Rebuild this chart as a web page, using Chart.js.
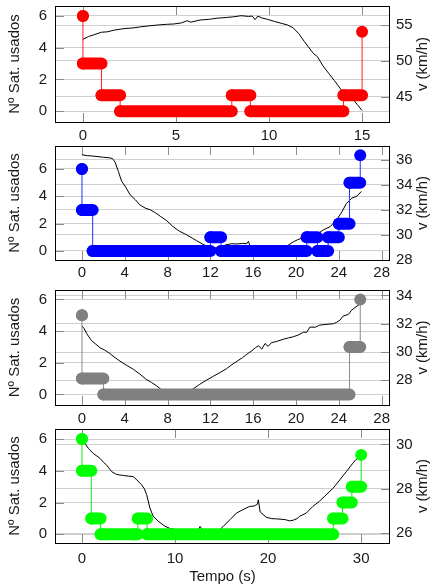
<!DOCTYPE html>
<html>
<head>
<meta charset="utf-8">
<script src="https://cdn.jsdelivr.net/npm/chart.js@4.4.1/dist/chart.umd.min.js"></script>
<style>
html,body{margin:0;padding:0;background:#fff;}
body{width:433px;height:586px;position:relative;overflow:hidden;}
canvas{position:absolute;left:0;}
</style>
</head>
<body>
<canvas id="c1" width="433" height="145" style="top:0px"></canvas>
<canvas id="c2" width="433" height="143" style="top:140px"></canvas>
<canvas id="c3" width="433" height="144" style="top:284px"></canvas>
<canvas id="c4" width="433" height="163" style="top:423px"></canvas>
<script>
// ---------- DATA ----------
const leftTitle = 'Nº Sat. usados';
const rightTitle = 'v (km/h)';
const bottomTitle = 'Tempo (s)';

// Panel 1 (red)
const satTimes1  = [0, 0, 1, 2, 8, 9, 14, 15];
const satValues1 = [6, 3, 1, 0, 1, 0, 1, 5];
const velTimes1  = [0, 0.3, 0.6, 1.0, 1.3, 1.7, 2.2, 2.7, 3.1, 3.6, 4.0, 4.5, 4.9, 5.3, 5.6, 5.8, 6.3, 6.8, 7.2, 7.7, 8.1, 8.5, 8.9, 9.1, 9.25, 9.4, 9.6, 9.9, 10.3, 10.65, 11.0, 11.3, 11.6, 11.9, 12.1, 12.4, 12.6, 12.9, 13.2, 13.5, 13.9, 14.2, 14.5, 14.75, 15.0];
const velValues1 = [53.0, 53.4, 53.65, 54.0, 54.05, 54.3, 54.5, 54.6, 54.75, 54.9, 55.0, 55.1, 55.15, 55.3, 55.6, 55.4, 55.7, 55.8, 55.95, 56.05, 56.15, 56.3, 56.2, 56.25, 55.75, 56.25, 56.0, 55.8, 55.5, 55.25, 55.0, 54.6, 53.8, 52.7, 52.0, 51.0, 50.6, 49.3, 48.3, 47.3, 45.9, 45.4, 44.7, 43.9, 43.1];
const xTicks1  = [0, 5, 10, 15];
const yTicks1  = [0, 2, 4, 6];
const y2Ticks1 = [45, 50, 55];

// Panel 2 (blue)
const satTimes2  = [0, 0, 1, 12, 13, 21, 22, 23, 24, 25, 26];
const satValues2 = [6, 3, 0, 1, 0, 1, 0, 1, 2, 5, 7];
const velTimes2  = [0, 0.5, 1.0, 1.5, 2.0, 2.6, 2.85, 3.1, 3.4, 3.7, 4.1, 4.5, 5.0, 5.4, 5.9, 6.4, 6.9, 7.3, 7.9, 8.5, 9.1, 9.8, 10.3, 10.7, 11.3, 11.7, 12.2, 12.8, 13.4, 14.0, 14.5, 15.0, 15.4, 15.55, 15.7, 16.2, 17.0, 18.0, 18.8, 19.3, 19.75, 20.1, 20.5, 21.0, 21.6, 22.1, 22.55, 23.2, 23.8, 24.3, 24.7, 25.2, 25.7, 26.1];
const velValues2 = [36.4, 36.33, 36.3, 36.25, 36.2, 36.15, 36.1, 35.8, 35.07, 34.3, 33.8, 33.2, 32.8, 32.4, 32.15, 32.0, 31.75, 31.5, 31.15, 30.67, 30.3, 30.0, 29.75, 29.55, 29.25, 29.1, 29.0, 28.95, 29.2, 29.3, 29.28, 29.32, 29.3, 29.5, 29.1, 28.95, 28.9, 28.9, 28.95, 29.2, 29.45, 29.6, 29.73, 29.85, 29.95, 30.15, 30.4, 30.67, 31.2, 31.87, 32.5, 32.93, 33.1, 33.47];
const xTicks2  = [0, 4, 8, 12, 16, 20, 24, 28];
const yTicks2  = [0, 2, 4, 6];
const y2Ticks2 = [28, 30, 32, 34, 36];

// Panel 3 (grey)
const satTimes3  = [0, 0, 2, 25, 26];
const satValues3 = [5, 1, 0, 3, 6];
const velTimes3  = [0, 0.2, 0.44, 0.9, 1.3, 1.7, 2.1, 2.6, 3.1, 3.55, 4.2, 4.8, 5.4, 6.0, 6.5, 7.0, 7.45, 8.0, 8.7, 9.4, 10.0, 10.4, 11.0, 11.6, 12.3, 12.9, 13.5, 14.0, 14.5, 15.0, 15.4, 15.8, 16.2, 16.5, 16.8, 17.1, 17.4, 17.7, 18.2, 18.8, 19.3, 19.75, 20.2, 20.7, 21.0, 21.3, 21.8, 22.2, 22.8, 23.5, 23.8, 24.1, 24.4, 24.9, 25.2, 25.7, 26.0];
const velValues3 = [31.85, 31.65, 31.3, 30.8, 30.55, 30.3, 30.15, 29.9, 29.6, 29.36, 29.05, 28.78, 28.45, 28.07, 27.85, 27.6, 27.32, 27.1, 27.0, 27.05, 27.2, 27.4, 27.72, 28.0, 28.3, 28.55, 28.82, 29.1, 29.36, 29.6, 29.84, 30.05, 30.3, 30.45, 30.2, 30.6, 30.4, 30.66, 30.75, 30.9, 31.0, 31.08, 31.2, 31.4, 31.4, 31.76, 31.75, 31.9, 31.95, 32.0, 32.1, 32.25, 32.54, 32.66, 32.96, 33.25, 33.4];
const xTicks3  = [0, 4, 8, 12, 16, 20, 24, 28];
const yTicks3  = [0, 2, 4, 6];
const y2Ticks3 = [28, 30, 32, 34];

// Panel 4 (green)
const satTimes4  = [0, 0, 1, 2, 6, 7, 27, 28, 29, 30];
const satValues4 = [6, 4, 1, 0, 1, 0, 1, 2, 3, 5];
const velTimes4  = [0.15, 0.4, 0.7, 1.2, 1.6, 1.95, 2.3, 2.65, 3.2, 3.7, 4.1, 4.45, 5.0, 5.5, 5.9, 6.4, 6.7, 6.95, 7.3, 7.65, 8.2, 8.9, 9.5, 10.2, 11.0, 11.8, 12.5, 12.7, 12.85, 13.2, 14.0, 14.8, 15.2, 15.9, 16.6, 17.3, 18.0, 18.5, 18.85, 18.95, 19.15, 19.8, 20.4, 20.9, 21.5, 21.9, 22.3, 22.7, 23.1, 23.4, 24.1, 24.8, 25.5, 26.25, 27.0, 27.7, 28.4, 29.1, 29.4, 29.65, 29.95];
const velValues4 = [30.2, 30.0, 29.82, 29.6, 29.48, 29.37, 29.2, 29.07, 28.77, 28.65, 28.62, 28.6, 28.57, 28.55, 28.4, 28.18, 28.0, 27.73, 27.13, 26.76, 26.53, 26.31, 26.2, 26.15, 26.12, 26.1, 26.15, 26.3, 26.2, 26.12, 26.12, 26.15, 26.31, 26.6, 26.9, 27.06, 27.2, 27.22, 27.3, 27.5, 26.95, 26.71, 26.65, 26.64, 26.62, 26.6, 26.55, 26.58, 26.65, 26.76, 26.9, 27.2, 27.43, 27.73, 28.03, 28.4, 28.77, 29.15, 29.3, 29.37, 29.52];
const xTicks4  = [0, 10, 20, 30];
const yTicks4  = [0, 2, 4, 6];
const y2Ticks4 = [26, 28, 30];

// ---------- RENDER ----------
Chart.defaults.font.family = '"Liberation Sans", Arial, Helvetica, sans-serif';
Chart.defaults.font.size = 15;
Chart.defaults.color = '#1a1a1a';

const FONT = '15px "Liberation Sans", Arial, Helvetica, sans-serif';

const framePlugin = {
  id: 'frame',
  beforeDatasetsDraw(chart) {
    const {ctx, chartArea: a, scales} = chart;
    const L = 9;
    ctx.save();
    ctx.strokeStyle = '#8a8a8a';
    ctx.lineWidth = 1;
    ctx.beginPath();
    for (const t of scales.x.ticks) {
      const px = Math.round(scales.x.getPixelForValue(t.value)) + 0.5;
      ctx.moveTo(px, a.top); ctx.lineTo(px, a.top + L);
      ctx.moveTo(px, a.bottom); ctx.lineTo(px, a.bottom - L);
    }
    for (const t of scales.y.ticks) {
      const py = Math.round(scales.y.getPixelForValue(t.value)) + 0.5;
      ctx.moveTo(a.left, py); ctx.lineTo(a.left + L, py);
    }
    for (const t of scales.y2.ticks) {
      const py = Math.round(scales.y2.getPixelForValue(t.value)) + 0.5;
      ctx.moveTo(a.right, py); ctx.lineTo(a.right - L, py);
    }
    ctx.stroke();
    ctx.restore();
  },
  afterDraw(chart, args, opts) {
    const {ctx, chartArea: a} = chart;
    ctx.save();
    ctx.strokeStyle = '#000';
    ctx.lineWidth = 1;
    ctx.strokeRect(Math.round(a.left) + 0.5, Math.round(a.top) + 0.5,
                   Math.round(a.right - a.left) - 1, Math.round(a.bottom - a.top));
    ctx.fillStyle = '#1a1a1a';
    ctx.font = FONT;
    ctx.textAlign = 'center';
    ctx.textBaseline = 'middle';
    const cy = (a.top + a.bottom) / 2;
    ctx.save(); ctx.translate(15, cy); ctx.rotate(-Math.PI / 2); ctx.fillText(leftTitle, 0, 0); ctx.restore();
    ctx.save(); ctx.translate(423, cy); ctx.rotate(-Math.PI / 2); ctx.fillText(rightTitle, 0, 0); ctx.restore();
    if (opts.showBottom) ctx.fillText(bottomTitle, (a.left + a.right) / 2, opts.bottomY);
    ctx.restore();
  }
};

function toPoints(xs, ys) { return xs.map((x, i) => ({x: x, y: ys[i]})); }
function barData(times, values) {
  const d = [];
  for (let i = 0; i < times.length - 1; i++) {
    d.push({x: times[i], y: values[i]}, {x: times[i + 1], y: values[i]}, {x: times[i + 1], y: null});
  }
  return d;
}
function fixedTicks(arr) { return s => { s.ticks = arr.map(v => ({value: v})); }; }

function makePanel(id, p) {
  new Chart(document.getElementById(id), {
    type: 'line',
    data: {
      datasets: [
        {data: toPoints(p.vt, p.vv), yAxisID: 'y2', borderColor: '#000', borderWidth: 1,
         pointRadius: 0, tension: 0, order: 3},
        {data: toPoints(p.st, p.sv), yAxisID: 'y', stepped: true, borderColor: p.line, borderWidth: 1,
         pointRadius: 6, pointBackgroundColor: p.color, pointBorderWidth: 0, order: 2},
        {data: barData(p.st, p.sv), yAxisID: 'y', borderColor: p.color, borderWidth: 12,
         borderCapStyle: 'round', pointRadius: 0, spanGaps: false, order: 1}
      ]
    },
    options: {
      responsive: false,
      animation: false,
      events: [],
      layout: {padding: {top: 6, left: 0, right: 0, bottom: 0}},
      plugins: {legend: {display: false}, tooltip: {enabled: false},
                frame: {showBottom: p.showBottom, bottomY: p.bottomY}},
      scales: {
        x: {type: 'linear', min: p.xmin, max: p.xmax, afterBuildTicks: fixedTicks(p.xt),
            grid: {display: false, drawTicks: false}, border: {display: false},
            ticks: {padding: p.xpad, maxRotation: 0, autoSkip: false},
            afterFit: s => { s.height = p.xh; s.paddingLeft = 0; s.paddingRight = 0; }},
        y: {position: 'left', min: p.ymin, max: p.ymax, afterBuildTicks: fixedTicks(p.yt),
            grid: {color: '#cfcfcf', drawTicks: false}, border: {display: false},
            ticks: {padding: 8},
            afterFit: s => { s.width = 55; s.paddingTop = 0; s.paddingBottom = 0; }},
        y2: {position: 'right', min: p.y2min, max: p.y2max, afterBuildTicks: fixedTicks(p.y2t),
            grid: {color: '#cfcfcf', drawTicks: false}, border: {display: false},
            ticks: {padding: 6},
            afterFit: s => { s.width = 43; s.paddingTop = 0; s.paddingBottom = 0; }}
      }
    },
    plugins: [framePlugin]
  });
}

makePanel('c1', {st: satTimes1, sv: satValues1, vt: velTimes1, vv: velValues1, xt: xTicks1, yt: yTicks1, y2t: y2Ticks1,
  color: '#ff0000', line: '#ff2020', xmin: -1.5, xmax: 16.5, ymin: -0.68, ymax: 6.63, y2min: 41.5, y2max: 57.65,
  xh: 23, xpad: 5, showBottom: false});
makePanel('c2', {st: satTimes2, sv: satValues2, vt: velTimes2, vv: velValues2, xt: xTicks2, yt: yTicks2, y2t: y2Ticks2,
  color: '#0000ff', line: '#2030ff', xmin: -2.52, xmax: 28.78, ymin: -0.66, ymax: 7.68, y2min: 28, y2max: 37.1,
  xh: 23, xpad: 4, showBottom: false});
makePanel('c3', {st: satTimes3, sv: satValues3, vt: velTimes3, vv: velValues3, xt: xTicks3, yt: yTicks3, y2t: y2Ticks3,
  color: '#808080', line: '#8a8a8a', xmin: -2.52, xmax: 28.78, ymin: -0.67, ymax: 6.6, y2min: 26.26, y2max: 34.38,
  xh: 23, xpad: 5, showBottom: false});
makePanel('c4', {st: satTimes4, sv: satValues4, vt: velTimes4, vv: velValues4, xt: xTicks4, yt: yTicks4, y2t: y2Ticks4,
  color: '#00ff00', line: '#10e810', xmin: -2.9, xmax: 33.1, ymin: -0.55, ymax: 6.63, y2min: 25.55, y2max: 30.7,
  xh: 43, xpad: 7, showBottom: true, bottomY: 154});
</script>
</body>
</html>
